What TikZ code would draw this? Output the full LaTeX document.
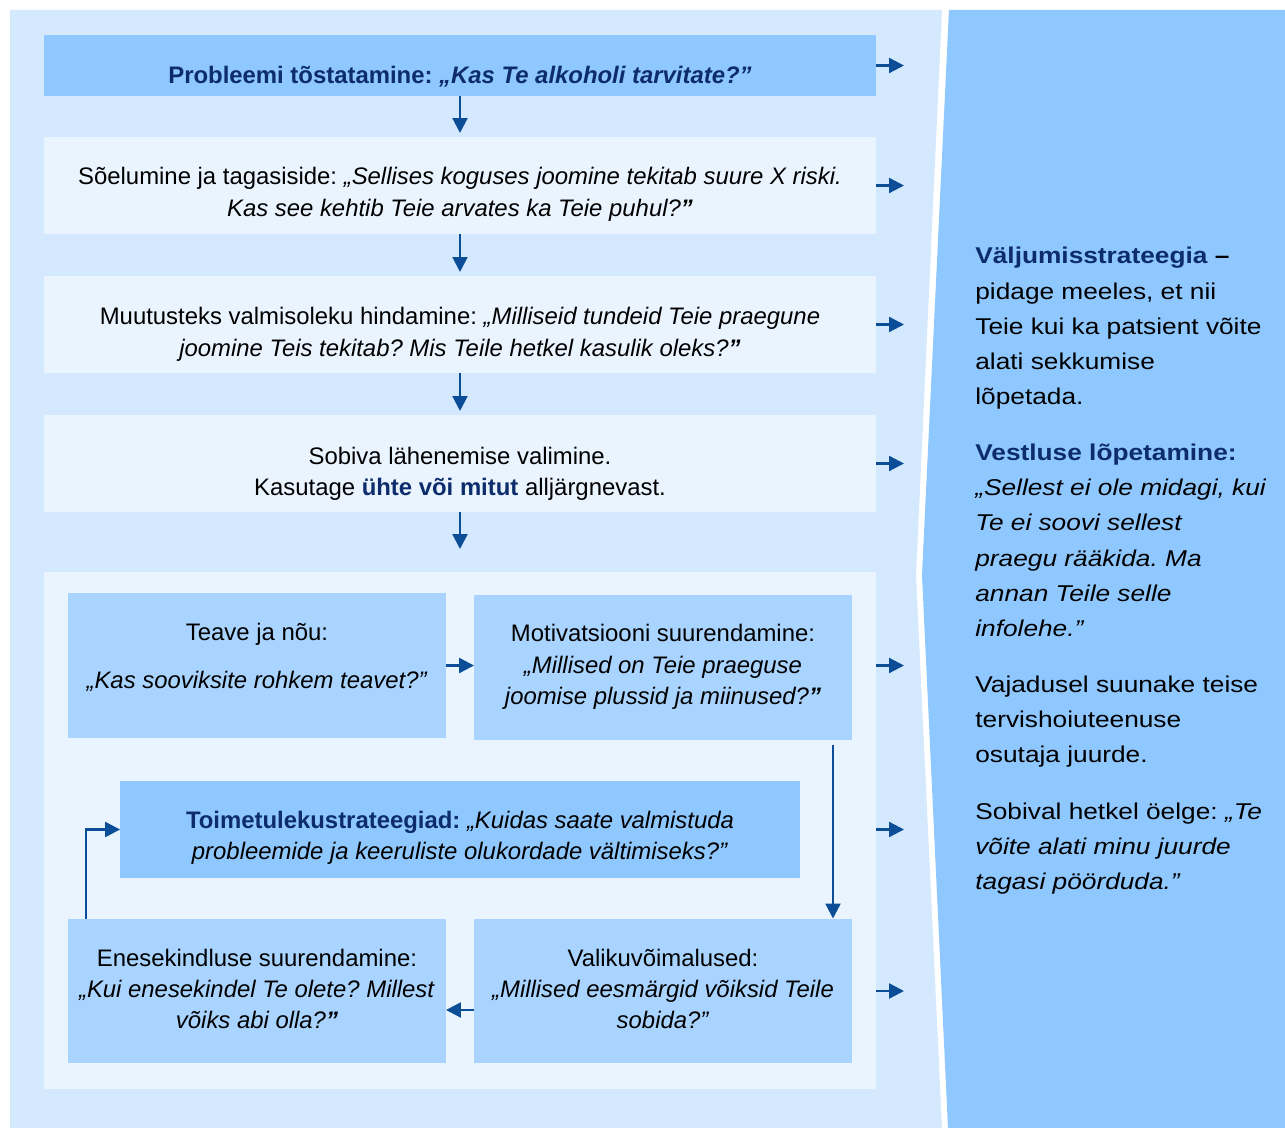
\documentclass[tikz,border=0pt]{standalone}
\usepackage{fontspec}
\setmainfont{Liberation Sans}
\newfontfamily\widesans[FakeStretch=1.15]{Liberation Sans}
\usetikzlibrary{arrows.meta}
\frenchspacing

\definecolor{bgpanel}{HTML}{D5E9FE}
\definecolor{bgside}{HTML}{8FC7FF}
\definecolor{boxdark}{HTML}{8FC7FF}
\definecolor{boxpale}{HTML}{EAF4FF}
\definecolor{boxmid}{HTML}{A9D4FF}
\definecolor{arrowblue}{HTML}{0B4E97}
\definecolor{navy}{HTML}{0D2C6C}

\begin{document}
\begin{tikzpicture}[
  x=0.02cm, y=-0.02cm,
  font=\fontsize{13.6}{17.9}\selectfont,
  topbox/.style={fill=boxdark, inner sep=0pt, outer sep=0pt, minimum width=16.64cm, minimum height=1.22cm},
  stepbox/.style={fill=boxpale, inner sep=0pt, outer sep=0pt, minimum width=16.64cm, minimum height=1.94cm},
  grpbox/.style={fill=boxpale, inner sep=0pt, outer sep=0pt, minimum width=16.64cm, minimum height=10.34cm},
  subbox/.style={fill=boxmid, inner sep=0pt, outer sep=0pt, minimum width=7.56cm, minimum height=2.9cm},
  keybox/.style={fill=boxdark, inner sep=0pt, outer sep=0pt, minimum width=13.6cm, minimum height=1.94cm},
  txt/.style={align=center, inner sep=0pt},
  sidetxt/.style={anchor=north west, align=left, inner sep=0pt, font=\widesans\fontsize{13}{20}\selectfont},
  arr/.style={draw=arrowblue, line width=1.3pt, -{Triangle[length=8.5pt,width=8.5pt]}}
]
\useasboundingbox (0,0) rectangle (1285,1128);
\fill[white] (0,0) rectangle (1285,1128);
\fill[bgpanel] (10,10) -- (942,10) -- (916,575) -- (942,1128) -- (10,1128) -- cycle;
\fill[bgside] (949,10) -- (1285,10) -- (1285,1128) -- (948,1128) -- (922,575) -- cycle;

\node[topbox] (raise) at (460,65.5) {};
\node[stepbox] (screen) at (460,185.5) {};
\node[stepbox] (ready) at (460,324.5) {};
\node[stepbox] (choose) at (460,463.5) {};
\node[grpbox] (grp) at (460,830.5) {};
\node[subbox] (info) at (257,665.5) {};
\node[subbox] (mot) at (663,667.5) {};
\node[keybox] (cope) at (460,829.5) {};
\node[subbox] (conf) at (257,991) {};
\node[subbox] (opt) at (663,991) {};

\node[txt, text=navy] (raisetxt) at (460,77) {\textbf{Probleemi tõstatamine: \textit{„Kas Te alkoholi tarvitate?”}}};
\node[txt] (screentxt) at (460,194.5) {Sõelumine ja tagasiside: \textit{„Sellises koguses joomine tekitab suure X riski.}\\
  \textit{Kas see kehtib Teie arvates ka Teie puhul?\textbf{”}}};
\node[txt] (readytxt) at (460,334.5) {Muutusteks valmisoleku hindamine: \textit{„Milliseid tundeid Teie praegune}\\
  \textit{joomine Teis tekitab? Mis Teile hetkel kasulik oleks?\textbf{”}}};
\node[txt] (choosetxt) at (460,474) {Sobiva lähenemise valimine.\\
  Kasutage \textcolor{navy}{\textbf{ühte või mitut}} alljärgnevast.};
\node[txt] (infotxt) at (257,657) {Teave ja nõu:\\[9.3pt] \textit{„Kas sooviksite rohkem teavet?"}};
\node[txt] (mottxt) at (663,667) {Motivatsiooni suurendamine:\\
  \textit{„Millised on Teie praeguse}\\ \textit{joomise plussid ja miinused?\textbf{”}}};
\node[txt] (copetxt) at (460,838) {\textcolor{navy}{\textbf{Toimetulekustrateegiad:}} \textit{„Kuidas saate valmistuda}\\
  \textit{probleemide ja keeruliste olukordade vältimiseks?”}};
\node[txt] (conftxt) at (257,989) {Enesekindluse suurendamine:\\
  \textit{„Kui enesekindel Te olete? Millest}\\ \textit{võiks abi olla?\textbf{”}}};
\node[txt] (opttxt) at (663,989) {Valikuvõimalused:\\
  \textit{„Millised eesmärgid võiksid Teile}\\ \textit{sobida?”}};

\node[sidetxt] (exit) at (975,247) {\textbf{\textcolor{navy}{Väljumisstrateegia} –}\\
  pidage meeles, et nii\\
  Teie kui ka patsient võite\\
  alati sekkumise\\
  lõpetada.\\[12pt]
  \textbf{\textcolor{navy}{Vestluse lõpetamine:}}\\
  \textit{„Sellest ei ole midagi, kui}\\
  \textit{Te ei soovi sellest}\\
  \textit{praegu rääkida. Ma}\\
  \textit{annan Teile selle}\\
  \textit{infolehe.”}\\[12pt]
  Vajadusel suunake teise\\
  tervishoiuteenuse\\
  osutaja juurde.\\[12pt]
  Sobival hetkel öelge: \textit{„Te}\\
  \textit{võite alati minu juurde}\\
  \textit{tagasi pöörduda.”}};

\coordinate (exitx) at (904,0);
\coordinate (flowend) at (460,549);
\coordinate (downx) at (833,0);
\coordinate (upx) at (86,0);

\draw[arr, shorten >=2.3pt] (raise) -- (screen);
\draw[arr, shorten >=2.3pt] (screen) -- (ready);
\draw[arr, shorten >=2.3pt] (ready) -- (choose);
\draw[arr] (choose) -- (flowend);
\foreach \n in {raise,screen,ready,choose,info,cope,opt}
  \draw[arr] (grp.east |- \n) -- (exitx |- \n);
\draw[arr] (info.east) -- (info.east -| mot.west);
\draw[arr, shorten <=2.8pt] (downx |- mot.south) -- (downx |- opt.north);
\draw[arr] ([yshift=-10.8pt]opt.west) -- ([yshift=-10.8pt]conf.east);
\draw[arr] (upx |- conf.north) |- (cope.west);
\end{tikzpicture}
\end{document}
